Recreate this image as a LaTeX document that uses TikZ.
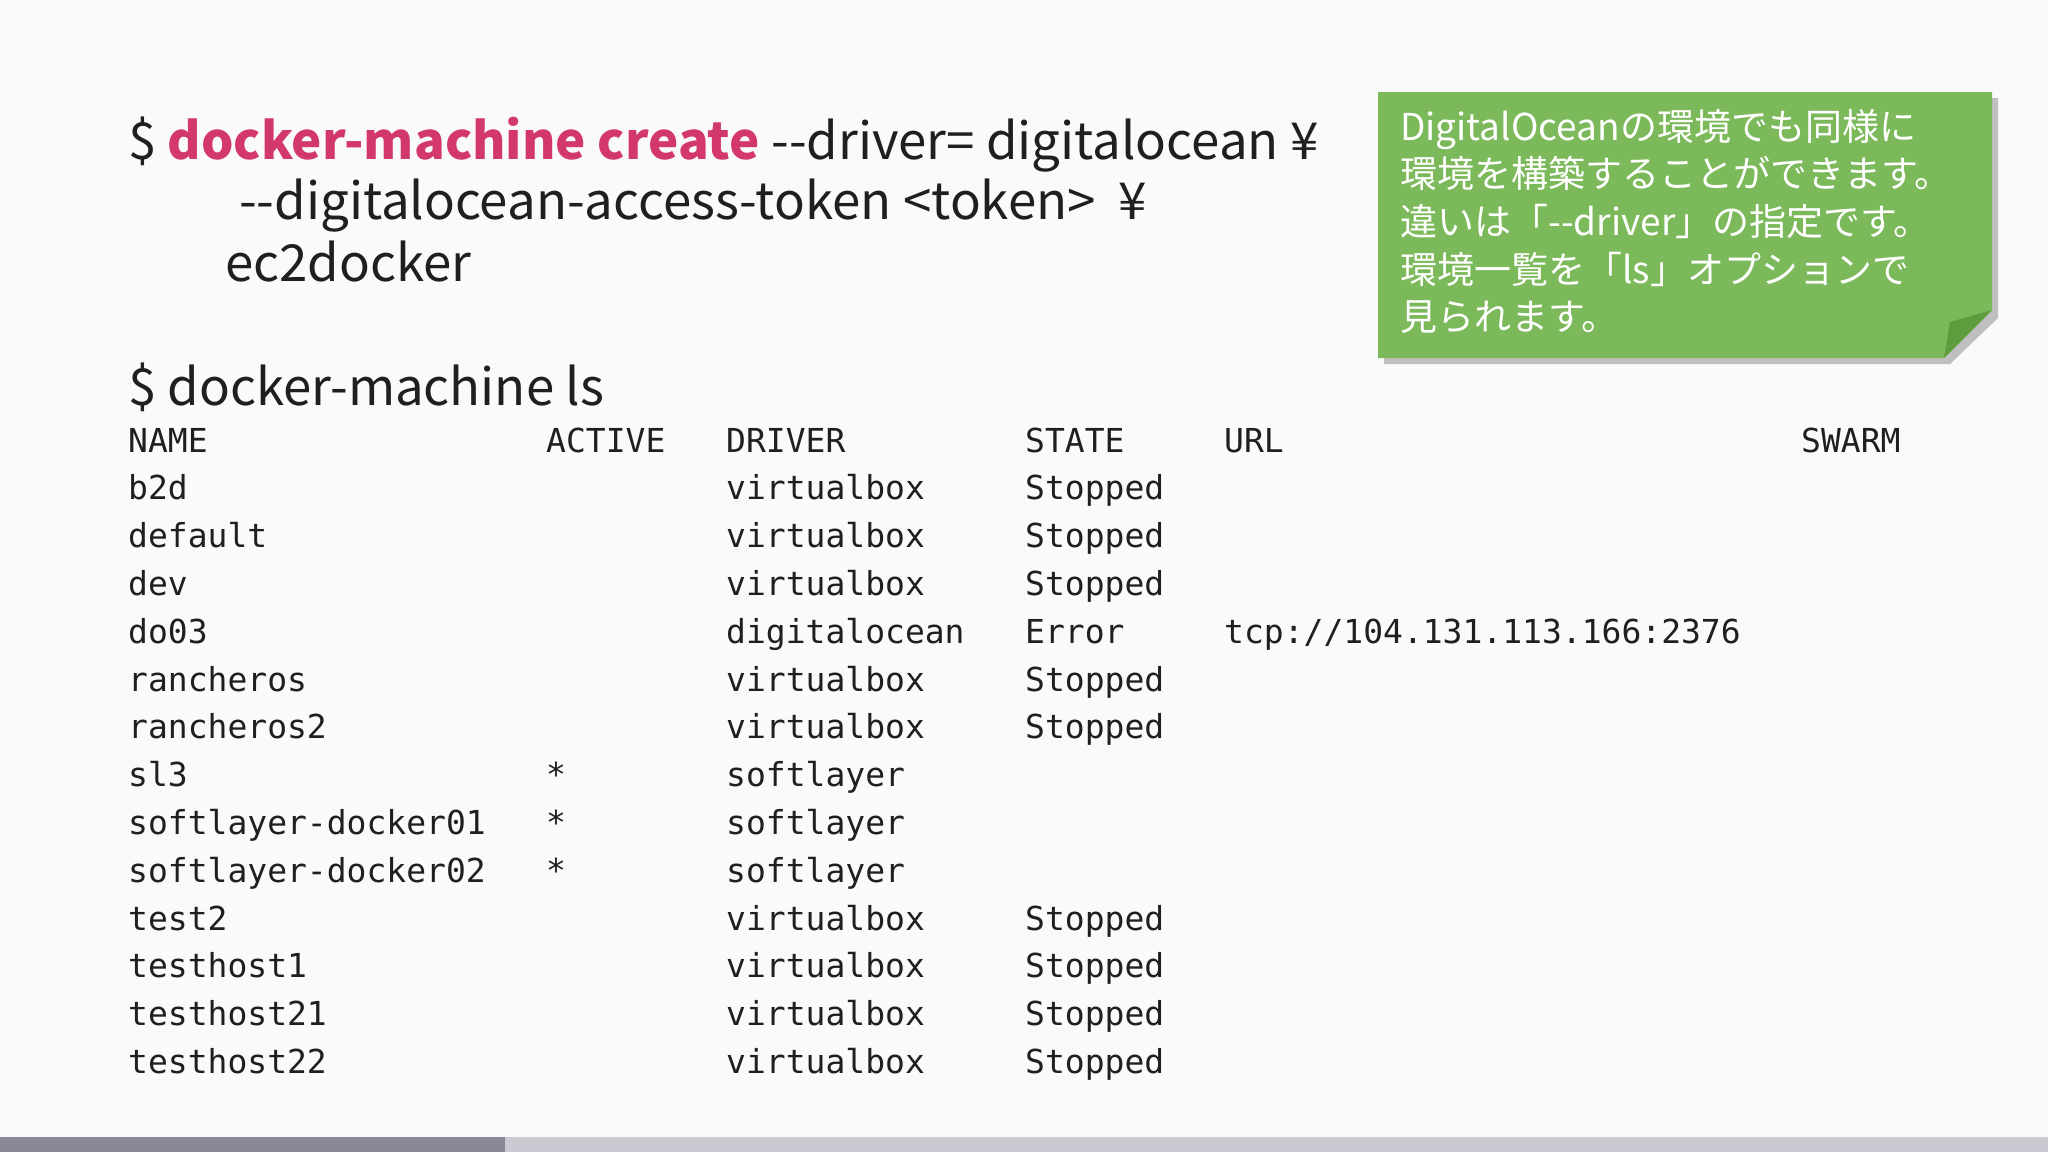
\documentclass[tikz,border=0pt]{standalone}
\usepackage{fontspec}
\setmainfont{Noto Sans CJK JP}
\setmonofont{DejaVu Sans Mono}
\newfontfamily\jpfont{Noto Sans CJK JP}
\definecolor{bg}{HTML}{FBFAFB}
\definecolor{cmdred}{HTML}{D2386A}
\definecolor{notegreen}{HTML}{7CB95A}
\definecolor{foldgreen}{HTML}{5E9C3E}
\definecolor{bardark}{HTML}{8A8797}
\definecolor{barlight}{HTML}{CBCAD3}
\begin{document}
\begin{tikzpicture}[x=1pt,y=-1pt,
  cmd/.style={anchor=base west,inner sep=0,font=\fontsize{51}{60}\selectfont,text=black!88},
  cell/.style={anchor=base west,inner sep=0,font=\ttfamily\fontsize{33}{40}\selectfont,text=black!88},
  notetext/.style={anchor=base west,inner sep=0,font=\jpfont\fontsize{37}{47.7}\selectfont,text=white,align=left}]
\fill[bg] (0,0) rectangle (2048,1152);
\useasboundingbox (0,0) rectangle (2048,1152);
% bottom progress bar
\fill[barlight] (0,1137) rectangle (2048,1152);
\fill[bardark] (0,1137) rectangle (505,1152);
% commands
\node[cmd] (c1) at (128,159) {\$ \textcolor{cmdred}{\textbf{docker-machine create}} -{}-driver= digitalocean ¥};
\node[cmd] (c2) at (239,219) {-{}-digitalocean-access-token <token> \ ¥};
\node[cmd] (c3) at (225,281) {ec2docker};
\node[cmd] (c4) at (128,405) {\$ docker-machine ls};
% table
\foreach \r/\n/\a/\d/\s [count=\i from 0] in {
  NAME/ACTIVE/DRIVER/STATE/URL,
  b2d//virtualbox/Stopped/,
  default//virtualbox/Stopped/,
  dev//virtualbox/Stopped/,
  do03//digitalocean/Error/{tcp://104.131.113.166:2376},
  rancheros//virtualbox/Stopped/,
  rancheros2//virtualbox/Stopped/,
  sl3/*/softlayer//,
  softlayer-docker01/*/softlayer//,
  softlayer-docker02/*/softlayer//,
  test2//virtualbox/Stopped/,
  testhost1//virtualbox/Stopped/,
  testhost21//virtualbox/Stopped/,
  testhost22//virtualbox/Stopped/}{
  \node[cell] (n\i) at (128,{452+47.8*\i}) {\r};
  \node[cell] (a\i) at (546,{452+47.8*\i}) {\n};
  \node[cell] (d\i) at (726,{452+47.8*\i}) {\a};
  \node[cell] (s\i) at (1025,{452+47.8*\i}) {\d};
  \node[cell] (u\i) at (1224,{452+47.8*\i}) {\s};
}
\node[cell] (swarm) at (1801,452) {SWARM};
% sticky note
\fill[black!25] (1384,98) -- (1998,98) -- (1998,318) -- (1950,364) -- (1384,364) -- cycle;
\fill[notegreen] (1378,92) -- (1992,92) -- (1992,310) -- (1944,358) -- (1378,358) -- cycle;
\fill[foldgreen] (1992,310) -- (1944,358) -- (1950,322) -- cycle;
\node[notetext] (note) at (1400,140) {DigitalOceanの環境でも同様に};
\node[notetext] at (1400,187.7) {環境を構築することができます。};
\node[notetext] at (1400,235.4) {違いは「-{}-driver」の指定です。};
\node[notetext] at (1400,283.1) {環境一覧を「ls」オプションで};
\node[notetext] at (1400,330.8) {見られます。};
\end{tikzpicture}
\end{document}
